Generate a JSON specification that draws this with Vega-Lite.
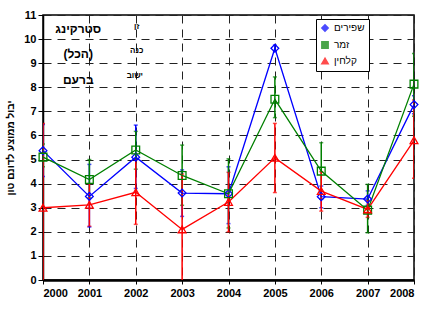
{
  "$schema": "https://vega.github.io/schema/vega-lite/v6.json",
  "autosize": {"type": "none"},
  "width": 371,
  "height": 265,
  "padding": {"left": 43, "top": 15, "right": 32, "bottom": 21},
  "config": {
    "font": "Liberation Sans",
    "view": {"stroke": "black", "strokeWidth": 1.5},
    "axis": {
      "grid": true,
      "gridColor": "#222",
      "gridDash": [8, 6],
      "gridWidth": 1,
      "domainColor": "black",
      "tickColor": "black",
      "labelColor": "black",
      "labelFont": "Liberation Sans",
      "labelFontWeight": "bold",
      "labelFontSize": 11,
      "titleColor": "black"
    },
    "legend": {
      "orient": "none",
      "legendX": 273,
      "legendY": 4,
      "strokeColor": "black",
      "fillColor": "white",
      "padding": 4,
      "labelFont": "Liberation Sans",
      "labelFontSize": 10,
      "labelColor": "black",
      "symbolStrokeWidth": 1.5,
      "symbolSize": 40,
      "rowPadding": 3,
      "labelOffset": 4
    }
  },
  "datasets": {
    "yields": [
      {"series": "שפירים", "year": 2000, "mean": 5.37, "lo": 4.3, "hi": 6.45},
      {"series": "שפירים", "year": 2001, "mean": 3.47, "lo": 2.2, "hi": 4.8},
      {"series": "שפירים", "year": 2002, "mean": 5.1, "lo": 3.8, "hi": 6.43},
      {"series": "שפירים", "year": 2003, "mean": 3.61, "lo": 2.64, "hi": 4.57},
      {"series": "שפירים", "year": 2004, "mean": 3.58, "lo": 2.34, "hi": 4.7},
      {"series": "שפירים", "year": 2005, "mean": 9.62, "lo": 9.5, "hi": 9.75},
      {"series": "שפירים", "year": 2006, "mean": 3.46, "lo": 3.0, "hi": 3.9},
      {"series": "שפירים", "year": 2007, "mean": 3.36, "lo": 3.1, "hi": 3.7},
      {"series": "שפירים", "year": 2008, "mean": 7.28, "lo": 6.9, "hi": 7.65},
      {"series": "זמר", "year": 2000, "mean": 5.1, "lo": 4.7, "hi": 5.65},
      {"series": "זמר", "year": 2001, "mean": 4.17, "lo": 3.4, "hi": 5.0},
      {"series": "זמר", "year": 2002, "mean": 5.4, "lo": 4.6, "hi": 6.17},
      {"series": "זמר", "year": 2003, "mean": 4.34, "lo": 3.1, "hi": 5.6},
      {"series": "זמר", "year": 2004, "mean": 3.58, "lo": 2.16, "hi": 5.03},
      {"series": "זמר", "year": 2005, "mean": 7.5, "lo": 6.74, "hi": 8.43},
      {"series": "זמר", "year": 2006, "mean": 4.52, "lo": 3.35, "hi": 5.7},
      {"series": "זמר", "year": 2007, "mean": 2.9, "lo": 1.96, "hi": 3.97},
      {"series": "זמר", "year": 2008, "mean": 8.13, "lo": 6.8, "hi": 9.4},
      {"series": "קלחין", "year": 2000, "mean": 3.0, "lo": -0.3, "hi": 6.5},
      {"series": "קלחין", "year": 2001, "mean": 3.12, "lo": 2.23, "hi": 4.0},
      {"series": "קלחין", "year": 2002, "mean": 3.64, "lo": 2.31, "hi": 5.0},
      {"series": "קלחין", "year": 2003, "mean": 2.1, "lo": -0.3, "hi": 4.4},
      {"series": "קלחין", "year": 2004, "mean": 3.24, "lo": 2.0, "hi": 4.47},
      {"series": "קלחין", "year": 2005, "mean": 5.07, "lo": 3.63, "hi": 6.5},
      {"series": "קלחין", "year": 2006, "mean": 3.69, "lo": 2.86, "hi": 4.5},
      {"series": "קלחין", "year": 2007, "mean": 2.93, "lo": 2.6, "hi": 3.3},
      {"series": "קלחין", "year": 2008, "mean": 5.8, "lo": 4.22, "hi": 7.47}
    ],
    "notes": [
      {"year": 2000.76, "val": 10.42, "label": "סטרקינג", "kind": "big"},
      {"year": 2000.76, "val": 9.38, "label": "(הכל)", "kind": "big"},
      {"year": 2000.76, "val": 8.3, "label": "ברעם", "kind": "big"},
      {"year": 2002.02, "val": 10.5, "label": "זן", "kind": "small"},
      {"year": 2002.02, "val": 9.5, "label": "כנה", "kind": "small"},
      {"year": 2001.98, "val": 8.45, "label": "ישוב", "kind": "small"}
    ]
  },
  "encoding": {
    "x": {
      "type": "quantitative",
      "scale": {"domain": [2000, 2008], "nice": false},
      "axis": {"values": [2000, 2001, 2002, 2003, 2004, 2005, 2006, 2007, 2008], "format": "d", "title": null, "domainWidth": 2.5, "tickSize": 4, "labelPadding": 3}
    },
    "y": {
      "type": "quantitative",
      "scale": {"domain": [0, 11], "nice": false},
      "axis": {"values": [0, 1, 2, 3, 4, 5, 6, 7, 8, 9, 10, 11], "title": "יבול ממוצע לדונם טון", "titleFontSize": 10, "titleFontWeight": "bold", "titlePadding": 8, "domainWidth": 1.5, "tickSize": 5, "labelPadding": 2}
    }
  },
  "layer": [
    {
      "data": {"name": "yields"},
      "mark": {"type": "errorbar", "ticks": {"size": 4}, "thickness": 1.5, "clip": true},
      "encoding": {
        "x": {"field": "year"},
        "y": {"field": "lo"},
        "y2": {"field": "hi"},
        "color": {"field": "series", "type": "nominal", "title": null, "scale": {"domain": ["שפירים", "זמר", "קלחין"], "range": ["#0000ff", "#008000", "#ff0000"]}}
      }
    },
    {
      "data": {"name": "yields"},
      "mark": {"type": "line", "strokeWidth": 1.3},
      "encoding": {
        "x": {"field": "year"},
        "y": {"field": "mean"},
        "color": {"field": "series", "type": "nominal", "title": null}
      }
    },
    {
      "data": {"name": "yields"},
      "mark": {"type": "point", "filled": false, "size": 60, "strokeWidth": 1.3, "opacity": 1},
      "encoding": {
        "x": {"field": "year"},
        "y": {"field": "mean"},
        "color": {"field": "series", "type": "nominal", "title": null},
        "shape": {"field": "series", "type": "nominal", "title": null, "scale": {"domain": ["שפירים", "זמר", "קלחין"], "range": ["diamond", "square", "triangle-up"]}}
      }
    },
    {
      "data": {"name": "notes"},
      "mark": {"type": "text", "fontWeight": "bold", "font": "Liberation Sans", "color": "black"},
      "encoding": {
        "x": {"field": "year"},
        "y": {"field": "val"},
        "text": {"field": "label"},
        "size": {"field": "kind", "type": "nominal", "scale": {"domain": ["big", "small"], "range": [12, 8]}, "legend": null}
      }
    }
  ]
}
